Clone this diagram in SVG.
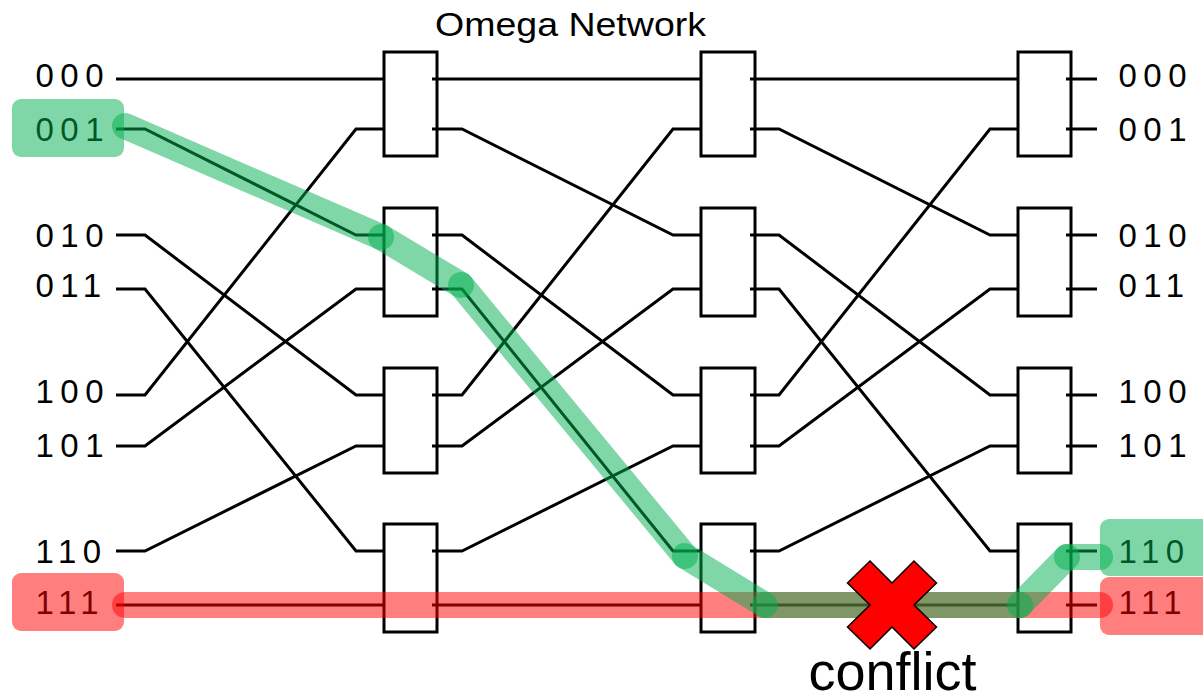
<svg xmlns="http://www.w3.org/2000/svg" width="1203" height="695" viewBox="0 0 1203 695">
<style>
.sw{fill:#fff;stroke:#000;stroke-width:3}
.w{fill:none;stroke:#000;stroke-width:3}
.lbl{font-family:"Liberation Sans",Arial,sans-serif;font-size:33px;letter-spacing:6.5px;fill:#000}
.title{font-family:"Liberation Sans",Arial,sans-serif;font-size:33px;fill:#000}
.g{stroke:#00b050;stroke-opacity:0.5;stroke-width:26;stroke-linecap:round;fill:none}
.r{stroke:#ff0000;stroke-opacity:0.5;stroke-width:26;stroke-linecap:round;fill:none}
.gb{fill:#00b050;fill-opacity:0.5}
.rb{fill:#ff0000;fill-opacity:0.5}
</style>
<rect width="1203" height="695" fill="#fff"/>
<g id="title">
<text class="title" x="435" y="36" textLength="271" lengthAdjust="spacingAndGlyphs">Omega Network</text>
</g>
<g id="switches">
<rect id="s1a" class="sw" x="384" y="52" width="53" height="104"/>
<rect id="s1b" class="sw" x="384" y="208" width="53" height="108"/>
<rect id="s1c" class="sw" x="384" y="368" width="53" height="105"/>
<rect id="s1d" class="sw" x="384" y="524" width="53" height="108"/>
<rect id="s2a" class="sw" x="701" y="52" width="54" height="104"/>
<rect id="s2b" class="sw" x="701" y="208" width="54" height="108"/>
<rect id="s2c" class="sw" x="701" y="368" width="54" height="105"/>
<rect id="s2d" class="sw" x="701" y="524" width="54" height="108"/>
<rect id="s3a" class="sw" x="1018" y="52" width="53" height="104"/>
<rect id="s3b" class="sw" x="1018" y="208" width="53" height="108"/>
<rect id="s3c" class="sw" x="1018" y="368" width="53" height="105"/>
<rect id="s3d" class="sw" x="1018" y="524" width="53" height="108"/>
</g>
<g id="connectors">
<path class="w" d="M116,79 H384"/>
<path class="w" d="M116,129 H145 L356,235 H384"/>
<path class="w" d="M116,235 H145 L356,395 H384"/>
<path class="w" d="M116,289 H145 L356,551 H384"/>
<path class="w" d="M116,395 H145 L356,129 H384"/>
<path class="w" d="M116,446 H145 L356,289 H384"/>
<path class="w" d="M116,551 H145 L356,446 H384"/>
<path class="w" d="M116,605 H384"/>
<path class="w" d="M432,79 H701"/>
<path class="w" d="M432,129 H462 L673,235 H701"/>
<path class="w" d="M432,235 H462 L673,395 H701"/>
<path class="w" d="M432,289 H462 L673,551 H701"/>
<path class="w" d="M432,395 H462 L673,129 H701"/>
<path class="w" d="M432,446 H462 L673,289 H701"/>
<path class="w" d="M432,551 H462 L673,446 H701"/>
<path class="w" d="M432,605 H701"/>
<path class="w" d="M750,79 H1018"/>
<path class="w" d="M750,129 H779 L990,235 H1018"/>
<path class="w" d="M750,235 H779 L990,395 H1018"/>
<path class="w" d="M750,289 H779 L990,551 H1018"/>
<path class="w" d="M750,395 H779 L990,129 H1018"/>
<path class="w" d="M750,446 H779 L990,289 H1018"/>
<path class="w" d="M750,551 H779 L990,446 H1018"/>
<path class="w" d="M750,605 H1018"/>
<path class="w" d="M1066,79 H1097"/>
<path class="w" d="M1066,129 H1097"/>
<path class="w" d="M1066,235 H1097"/>
<path class="w" d="M1066,289 H1097"/>
<path class="w" d="M1066,395 H1097"/>
<path class="w" d="M1066,446 H1097"/>
<path class="w" d="M1066,551 H1097"/>
<path class="w" d="M1066,605 H1097"/>
</g>
<g id="inputs">
<text class="lbl" x="35.5" y="87">000</text>
<text class="lbl" x="35.5" y="141">001</text>
<text class="lbl" x="35.5" y="247">010</text>
<text class="lbl" x="35.5" y="297">011</text>
<text class="lbl" x="35.5" y="403">100</text>
<text class="lbl" x="35.5" y="457">101</text>
<text class="lbl" x="35.5" y="563">110</text>
<text class="lbl" x="35.5" y="614">111</text>
</g>
<g id="outputs">
<text class="lbl" x="1118.5" y="87">000</text>
<text class="lbl" x="1118.5" y="141">001</text>
<text class="lbl" x="1118.5" y="247">010</text>
<text class="lbl" x="1118.5" y="297">011</text>
<text class="lbl" x="1118.5" y="403">100</text>
<text class="lbl" x="1118.5" y="457">101</text>
<text class="lbl" x="1118.5" y="563">110</text>
<text class="lbl" x="1118.5" y="614">111</text>
</g>
<g id="highlight-labels">
<rect class="gb" x="12" y="99" width="112" height="58" rx="9"/>
<rect class="rb" x="12" y="573" width="112" height="58" rx="9"/>
<rect class="gb" x="1100" y="519" width="120" height="57" rx="9"/>
<rect class="rb" x="1100" y="577" width="120" height="58" rx="9"/>
</g>
<g id="red-path">
<line class="r" x1="125" y1="605" x2="1100" y2="605"/>
</g>
<g id="green-path">
<line class="g" x1="125" y1="126" x2="381" y2="237"/>
<line class="g" x1="381" y1="237" x2="461" y2="285"/>
<line class="g" x1="461" y1="285" x2="685" y2="556"/>
<line class="g" x1="685" y1="556" x2="765" y2="605"/>
<line class="g" x1="765" y1="605" x2="1020" y2="605"/>
<line class="g" x1="1020" y1="605" x2="1067" y2="557"/>
<line class="g" x1="1067" y1="557" x2="1100" y2="557"/>
</g>
<g id="conflict">
<polygon transform="translate(892,605)" points="0,-22 22,-44 44.5,-22 22,0 44.5,22 22,44 0,22 -22,44 -44.5,22 -22,0 -44.5,-22 -22,-44" fill="#ff0000" stroke="#000" stroke-width="1.5" stroke-linejoin="miter"/>
<text x="892.5" y="690" text-anchor="middle" font-family="Liberation Sans, Arial, sans-serif" font-size="54">conflict</text>
</g>
</svg>
